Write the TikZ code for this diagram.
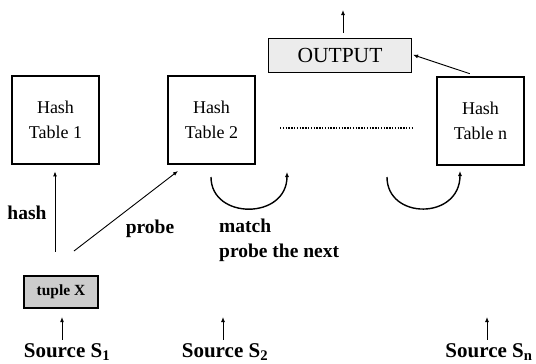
\documentclass[tikz,border=0pt]{standalone}
\usepackage{fontspec}
\setmainfont{Liberation Serif}
\usetikzlibrary{arrows.meta}
\begin{document}
\begin{tikzpicture}[x=1pt,y=-1pt,
  tbl/.style={draw,line width=2.8pt,minimum width=87pt,minimum height=88pt,align=center,inner sep=0pt,font=\fontsize{18}{25}\selectfont},
  outbox/.style={draw,line width=1.2pt,fill=gray!15,minimum width=143pt,minimum height=34pt,inner sep=0pt,font=\fontsize{21.5}{22}\selectfont},
  tuplebox/.style={draw,line width=2.2pt,fill=gray!40,minimum width=74pt,minimum height=32pt,inner sep=0pt,font=\bfseries\fontsize{15.5}{16}\selectfont},
  lbl/.style={font=\bfseries\fontsize{19.5}{25}\selectfont,inner sep=0pt},
  src/.style={font=\bfseries\fontsize{21}{24}\selectfont,inner sep=0pt,anchor=base},
  arr/.style={-{Latex[length=5pt,width=4pt]},line width=0.9pt},
  carr/.style={-{Latex[length=5pt,width=4pt]},line width=1.4pt}
]
\useasboundingbox (0,0) rectangle (536,364);
\node[tbl] (h1) at (55.5,120) {Hash\\Table 1};
\node[tbl] (h2) at (211.5,120) {Hash\\Table 2};
\node[tbl] (hn) at (480.5,121) {Hash\\Table n};
\node[outbox] (out) at (340,55.5) {OUTPUT};
\node[tuplebox] (tup) at (61,292) {tuple X};
\node[lbl] (hash) at (27,213) {hash};
\node[lbl] (probe) at (150,229) {probe};
\node[lbl,align=left,anchor=north west] (match) at (219,219) {match\\probe the next};
\node[src] (s1) at (67,357) {Source S\textsubscript{1}};
\node[src] (s2) at (225,357) {Source S\textsubscript{2}};
\node[src] (sn) at (489,357) {Source S\textsubscript{n}};
% free ends
\coordinate (otop) at (343,10);
\coordinate (ps) at (74,251);
\coordinate (pe) at (178,171);
\coordinate (c1s) at (211,177);
\coordinate (c1e) at (287,172);
\coordinate (c2s) at (387,177);
\coordinate (c2e) at (460,171);
\coordinate (a2) at (223,317);
\coordinate (an) at (487,317);
\coordinate (d1) at (280,128);
\coordinate (d2) at (413,128);
% connectors
\draw[arr,shorten <=5pt] ([xshift=3pt]out.north) -- (otop);
\draw[arr,shorten <=6pt,shorten >=1pt] ([xshift=-5pt]hn.north) -- ([yshift=1pt]out.east);
\draw[arr,shorten <=23pt,shorten >=6pt] ([xshift=-6pt]tup.north) -- ([xshift=-0.5pt]h1.south);
\draw[arr] (ps) -- (pe);
\draw[carr] (c1s) .. controls (211,220) and (287,220) .. (c1e);
\draw[carr] (c2s) .. controls (387,220) and (460,220) .. (c2e);
\draw[line width=1.8pt,dash pattern=on 1.4pt off 1.4pt] (d1) -- (d2);
\draw[arr,shorten <=3pt,shorten >=8pt] ([xshift=-5pt]s1.north) -- ([xshift=1pt]tup.south);
\draw[arr,shorten <=3pt] ([xshift=-2pt]s2.north) -- (a2);
\draw[arr,shorten <=3pt] ([xshift=-2pt]sn.north) -- (an);
\end{tikzpicture}
\end{document}
